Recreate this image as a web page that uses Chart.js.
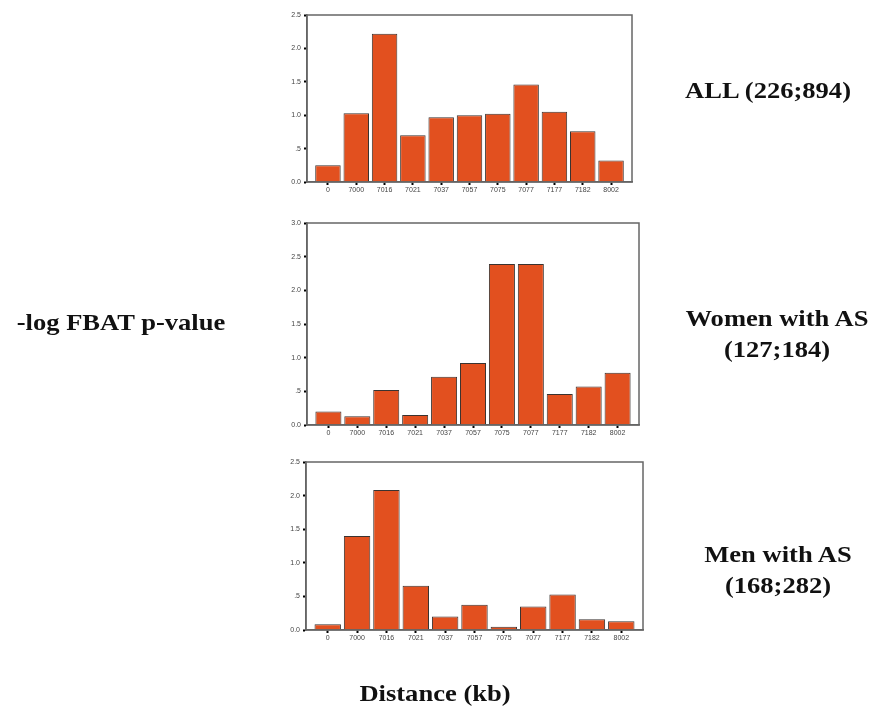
<!DOCTYPE html>
<html>
<head>
<meta charset="utf-8">
<script src="https://cdn.jsdelivr.net/npm/chart.js@4.4.1/dist/chart.umd.min.js"></script>
<style>
  html, body { margin: 0; padding: 0; background: #ffffff; }
  #wrap { position: relative; width: 873px; height: 709px; overflow: hidden; background: #fff; }
  canvas { position: absolute; left: 0; top: 0; }
  .lbl { position: absolute; font-family: "Liberation Serif", "Times New Roman", serif; font-weight: bold;
         font-size: 23.5px; color: #111; text-align: center; white-space: nowrap; line-height: 31px;
         transform: translate(-50%, -50%) scaleX(1.13); }
</style>
</head>
<body>
<div id="wrap">
  <canvas id="c1" width="873" height="709"></canvas>
  <canvas id="c2" width="873" height="709"></canvas>
  <canvas id="c3" width="873" height="709"></canvas>
  <div class="lbl" style="left:121px; top:322px;">-log FBAT p-value</div>
  <div class="lbl" style="left:768px; top:90px;">ALL (226;894)</div>
  <div class="lbl" style="left:777px; top:334px;">Women with AS<br>(127;184)</div>
  <div class="lbl" style="left:778px; top:570px;">Men with AS<br>(168;282)</div>
  <div class="lbl" style="left:435px; top:693px;">Distance (kb)</div>
</div>
<script>
// ---- data ----
const categories = ['0', '7000', '7016', '7021', '7037', '7057', '7075', '7077', '7177', '7182', '8002'];
const allVals   = [0.25, 1.03, 2.22, 0.70, 0.97, 1.00, 1.02, 1.46, 1.05, 0.76, 0.32];
const womenVals = [0.20, 0.13, 0.52, 0.15, 0.715, 0.92, 2.39, 2.39, 0.46, 0.57, 0.775];
const menVals   = [0.085, 1.40, 2.085, 0.66, 0.20, 0.375, 0.05, 0.35, 0.53, 0.16, 0.13];
const yMaxes    = [2.5, 3.0, 2.5];

// ---- layout ----
const W = 873, H = 709;
const Y_AXIS_W = 40, X_AXIS_H = 20;
const panels = [
  { id: 'c1', vals: allVals,   yMax: yMaxes[0], rect: { left: 307, top: 15,  right: 632, bottom: 182 } },
  { id: 'c2', vals: womenVals, yMax: yMaxes[1], rect: { left: 307, top: 223, right: 639, bottom: 425 } },
  { id: 'c3', vals: menVals,   yMax: yMaxes[2], rect: { left: 306, top: 462, right: 643, bottom: 630 } }
];
const EDGE = 0.74;

const frame = {
  id: 'frame',
  afterDraw(chart) {
    const a = chart.chartArea, ctx = chart.ctx;
    ctx.save();
    ctx.strokeStyle = '#666';
    ctx.lineWidth = 1.5;
    ctx.strokeRect(a.left, a.top, a.right - a.left, a.bottom - a.top);
    ctx.restore();
  }
};

function fmtY(v) {
  const s = Number(v).toFixed(1);
  return (v > 0 && v < 1) ? s.replace(/^0/, '') : s;
}

panels.forEach(p => {
  new Chart(document.getElementById(p.id), {
    type: 'bar',
    data: {
      datasets: [{
        data: p.vals.map((v, i) => ({ x: i, y: v })),
        backgroundColor: '#e2501f',
        borderColor: '#3a3330',
        borderWidth: 1,
        barPercentage: 0.9,
        categoryPercentage: 1.0
      }]
    },
    options: {
      responsive: false,
      animation: false,
      events: [],
      layout: {
        padding: {
          left: p.rect.left - Y_AXIS_W,
          top: p.rect.top,
          right: W - p.rect.right,
          bottom: H - p.rect.bottom - X_AXIS_H
        }
      },
      plugins: { legend: { display: false }, tooltip: { enabled: false } },
      scales: {
        x: {
          type: 'linear',
          offset: false,
          min: -EDGE,
          max: categories.length - 1 + EDGE,
          afterBuildTicks: s => { s.ticks = categories.map((_, i) => ({ value: i })); },
          afterFit: s => { s.height = X_AXIS_H; },
          grid: { display: true, drawOnChartArea: false, drawTicks: true, tickLength: 3, tickWidth: 2, color: '#000', offset: false },
          border: { display: true, color: '#666', width: 1.5 },
          ticks: {
            autoSkip: false, maxRotation: 0, padding: 1, color: '#444',
            font: { family: 'Liberation Sans, Arial, sans-serif', size: 7 },
            callback: v => categories[v]
          }
        },
        y: {
          min: 0,
          max: p.yMax,
          afterFit: s => { s.width = Y_AXIS_W; },
          grid: { display: true, drawOnChartArea: false, drawTicks: true, tickLength: 3, tickWidth: 2, color: '#000' },
          border: { display: true, color: '#666', width: 1.5 },
          ticks: {
            stepSize: 0.5, padding: 3, color: '#444',
            font: { family: 'Liberation Sans, Arial, sans-serif', size: 7 },
            callback: v => fmtY(v)
          }
        }
      }
    },
    plugins: [frame]
  });
});
</script>
</body>
</html>
